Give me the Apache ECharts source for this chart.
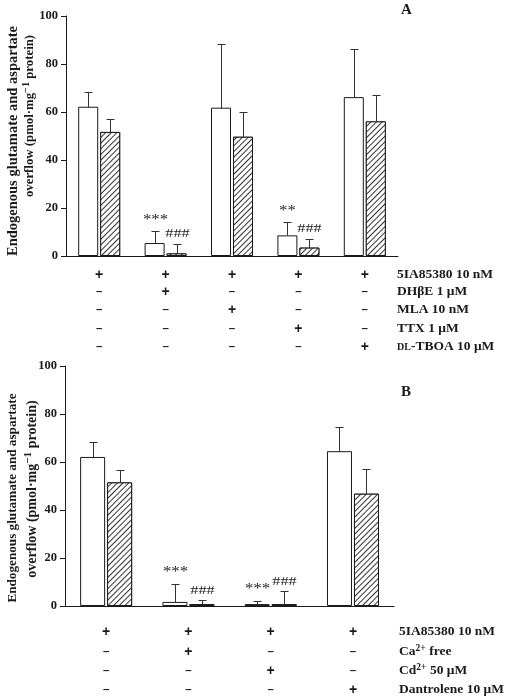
<!DOCTYPE html>
<html><head><meta charset="utf-8">
<script src="https://cdn.jsdelivr.net/npm/echarts@6/dist/echarts.min.js"></script>
<style>html,body{margin:0;padding:0;background:#fff}#c{width:505px;height:700px}</style>
</head><body><div id="c"></div>
<script>
// ---------- Panel A data ----------
const groupsA = ['ctrl', 'dhbe', 'mla', 'ttx', 'tboa'];
const glutA = [62.2, 5.4, 61.8, 8.6, 66.2];
const glutErrA = [6.3, 5.1, 26.7, 5.7, 19.9];
const aspA = [51.7, 1.1, 49.7, 3.5, 56.1];
const aspErrA = [5.3, 3.8, 10.4, 3.5, 10.9];
const glutSigA = ['', '***', '', '**', ''];
const aspSigA = ['', '###', '', '###', ''];
const rowLabelsA = ['5IA85380 10 nM', 'DHβE 1 μM', 'MLA 10 nM', 'TTX 1 μM', '{sc|DL}-TBOA 10 μM'];
const rowsA = [
  ['+', '+', '+', '+', '+'],
  ['–', '+', '–', '–', '–'],
  ['–', '–', '+', '–', '–'],
  ['–', '–', '–', '+', '–'],
  ['–', '–', '–', '–', '+']
];
// ---------- Panel B data ----------
const groupsB = ['ctrl', 'cafree', 'cd', 'dant'];
const glutB = [62.1, 1.7, 0.8, 64.5];
const glutErrB = [6.2, 7.3, 1.3, 10.1];
const aspB = [51.5, 0.8, 0.8, 46.8];
const aspErrB = [5.3, 1.6, 5.5, 10.2];
const glutSigB = ['', '***', '***', ''];
const aspSigB = ['', '###', '###', ''];
const rowLabelsB = ['5IA85380 10 nM', 'Ca{sup|2+} free', 'Cd{sup|2+} 50 μM', 'Dantrolene 10 μM'];
const rowsB = [
  ['+', '+', '+', '+'],
  ['–', '+', '–', '–'],
  ['–', '–', '+', '–'],
  ['–', '–', '–', '+']
];
const yTicks = [0, 20, 40, 60, 80, 100];

const SERIF = '"Liberation Serif", "Times New Roman", serif';
const SANS = '"Liberation Sans", Arial, sans-serif';
const INK = '#1a1a1a';

const chart = echarts.init(document.getElementById('c'));

const rowOffsetsA = [19, 36, 54, 73, 91];
const rowOffsetsB = [26, 46, 65, 84];

function rowAxes(gridIndex, cats, rows, labels, offsets, nameGap) {
  return rows.map((row, r) => ({
    type: 'category', gridIndex, data: cats, position: 'bottom', offset: offsets[r],
    axisLine: { show: false }, axisTick: { show: false }, splitLine: { show: false },
    axisLabel: {
      interval: 0, margin: 0, verticalAlign: 'middle',
      formatter: (v, i) => row[i] === '+' ? '{p|+}' : '{m|–}',
      rich: {
        p: { fontFamily: SANS, fontWeight: 'bold', fontSize: 14, color: INK },
        m: { fontFamily: SANS, fontWeight: 'bold', fontSize: 11.5, color: INK }
      }
    },
    name: labels[r], nameLocation: 'end', nameGap,
    nameTextStyle: {
      align: 'left', verticalAlign: 'middle', fontFamily: SERIF, fontWeight: 'bold',
      fontSize: 13.5, color: INK,
      rich: {
        sc: { fontFamily: SERIF, fontWeight: 'bold', fontSize: 10, color: INK },
        sup: { fontFamily: SERIF, fontWeight: 'bold', fontSize: 9.5, color: INK, verticalAlign: 'top', padding: [0, 0, 6, 0] }
      }
    }
  }));
}

function mainX(gridIndex, cats) {
  return {
    type: 'category', gridIndex, data: cats,
    axisLine: { show: true, lineStyle: { color: INK, width: 1 } },
    axisTick: { show: false }, axisLabel: { show: false }, splitLine: { show: false }
  };
}
function mainY(gridIndex) {
  return {
    type: 'value', gridIndex, min: yTicks[0], max: yTicks[yTicks.length - 1], interval: yTicks[1] - yTicks[0],
    axisLine: { show: true, lineStyle: { color: INK, width: 1 } },
    axisTick: { show: true, inside: false, length: 5, lineStyle: { color: INK } },
    splitLine: { show: false },
    axisLabel: { margin: 8, fontFamily: SERIF, fontWeight: 'bold', fontSize: 12.5, color: INK }
  };
}

const hatch = {
  symbol: 'rect', symbolSize: 1, color: '#333', backgroundColor: '#fff',
  dashArrayX: [1, 0], dashArrayY: [1, 3], rotation: -Math.PI / 4
};

function barSeries(xi, yi, vals, hatched, w, gap) {
  return {
    type: 'bar', xAxisIndex: xi, yAxisIndex: yi, data: vals, barWidth: w, barGap: gap,
    itemStyle: Object.assign({ color: '#fff', borderColor: INK, borderWidth: 1 }, hatched ? { decal: hatch } : {}),
    silent: true, animation: false
  };
}

function errSeries(xi, yi, vals, errs, sig, side, w, gap, sigLift) {
  return {
    type: 'custom', xAxisIndex: xi, yAxisIndex: yi, z: 5, silent: true, animation: false,
    data: vals.map((v, i) => [i, v + errs[i]]),
    renderItem(params, api) {
      const i = params.dataIndex;
      const base = api.coord([i, vals[i]]);
      const top = api.coord([i, vals[i] + errs[i]]);
      const x = Math.round(base[0] + side * (w + gap) / 2) + 0.5;
      const yb = Math.round(base[1]) + 0.5;
      const yt = Math.round(top[1]) + 0.5;
      const cw = 4;
      const children = [
        { type: 'line', shape: { x1: x, y1: yb, x2: x, y2: yt }, style: { stroke: '#333', lineWidth: 1 } },
        { type: 'line', shape: { x1: x - cw, y1: yt, x2: x + cw, y2: yt }, style: { stroke: '#333', lineWidth: 1 } }
      ];
      if (sig[i]) {
        const star = sig[i].charAt(0) === '*';
        children.push({
          type: 'text', x: x, y: yt - sigLift + (star ? 2 : 0), scaleX: star ? 1.2 : 1.3,
          style: { text: sig[i], fontFamily: SERIF, fontSize: star ? 14 : 12.5, fill: INK, align: 'center', verticalAlign: 'middle' }
        });
      }
      return { type: 'group', children };
    }
  };
}

function yTitle(x1, y1, x2, y2, f1, f2) {
  return [
    { type: 'text', x: x1, y: y1, rotation: Math.PI / 2,
      style: { text: 'Endogenous glutamate and aspartate', fontFamily: SERIF, fontWeight: 'bold', fontSize: f1, fill: INK, align: 'center', verticalAlign: 'middle' } },
    { type: 'text', x: x2, y: y2, rotation: Math.PI / 2,
      style: { text: 'overflow (pmol·mg{sup|−1} protein)', fontFamily: SERIF, fontWeight: 'bold', fontSize: f2, fill: INK, align: 'center', verticalAlign: 'middle',
        rich: { sup: { fontFamily: SERIF, fontWeight: 'bold', fontSize: f2 * 0.8, fill: INK, verticalAlign: 'top', padding: [0, 0, 7, 0] } } } }
  ];
}

const xAxes = [mainX(0, groupsA)]
  .concat(rowAxes(0, groupsA, rowsA, rowLabelsA, rowOffsetsA, -1))
  .concat([mainX(1, groupsB)])
  .concat(rowAxes(1, groupsB, rowsB, rowLabelsB, rowOffsetsB, 5));
const xB = 1 + rowsA.length; // index of panel B main x axis

const option = {
  animation: false,
  backgroundColor: '#fff',
  title: [
    { text: 'A', left: 401, top: 3, padding: 0, textStyle: { fontFamily: SERIF, fontSize: 15, fontWeight: 'bold', color: INK } },
    { text: 'B', left: 401, top: 385, padding: 0, textStyle: { fontFamily: SERIF, fontSize: 15, fontWeight: 'bold', color: INK } }
  ],
  grid: [
    { left: 66, top: 16, width: 332, height: 240 },
    { left: 65, top: 366, width: 335, height: 240 }
  ],
  xAxis: xAxes,
  yAxis: [mainY(0), mainY(1)],
  graphic: yTitle(13, 141, 30, 116, 14.5, 12.8).concat(yTitle(13, 498, 32, 489, 13.2, 14)),
  series: [
    barSeries(0, 0, glutA, false, 20, '10%'),
    barSeries(0, 0, aspA, true, 20, '10%'),
    errSeries(0, 0, glutA, glutErrA, glutSigA, -1, 20, 2, 13),
    errSeries(0, 0, aspA, aspErrA, aspSigA, 1, 20, 2, 11),
    barSeries(xB, 1, glutB, false, 25, '8%'),
    barSeries(xB, 1, aspB, true, 25, '8%'),
    errSeries(xB, 1, glutB, glutErrB, glutSigB, -1, 25, 2, 14),
    errSeries(xB, 1, aspB, aspErrB, aspSigB, 1, 25, 2, 10)
  ]
};
chart.setOption(option);
</script>
</body></html>
